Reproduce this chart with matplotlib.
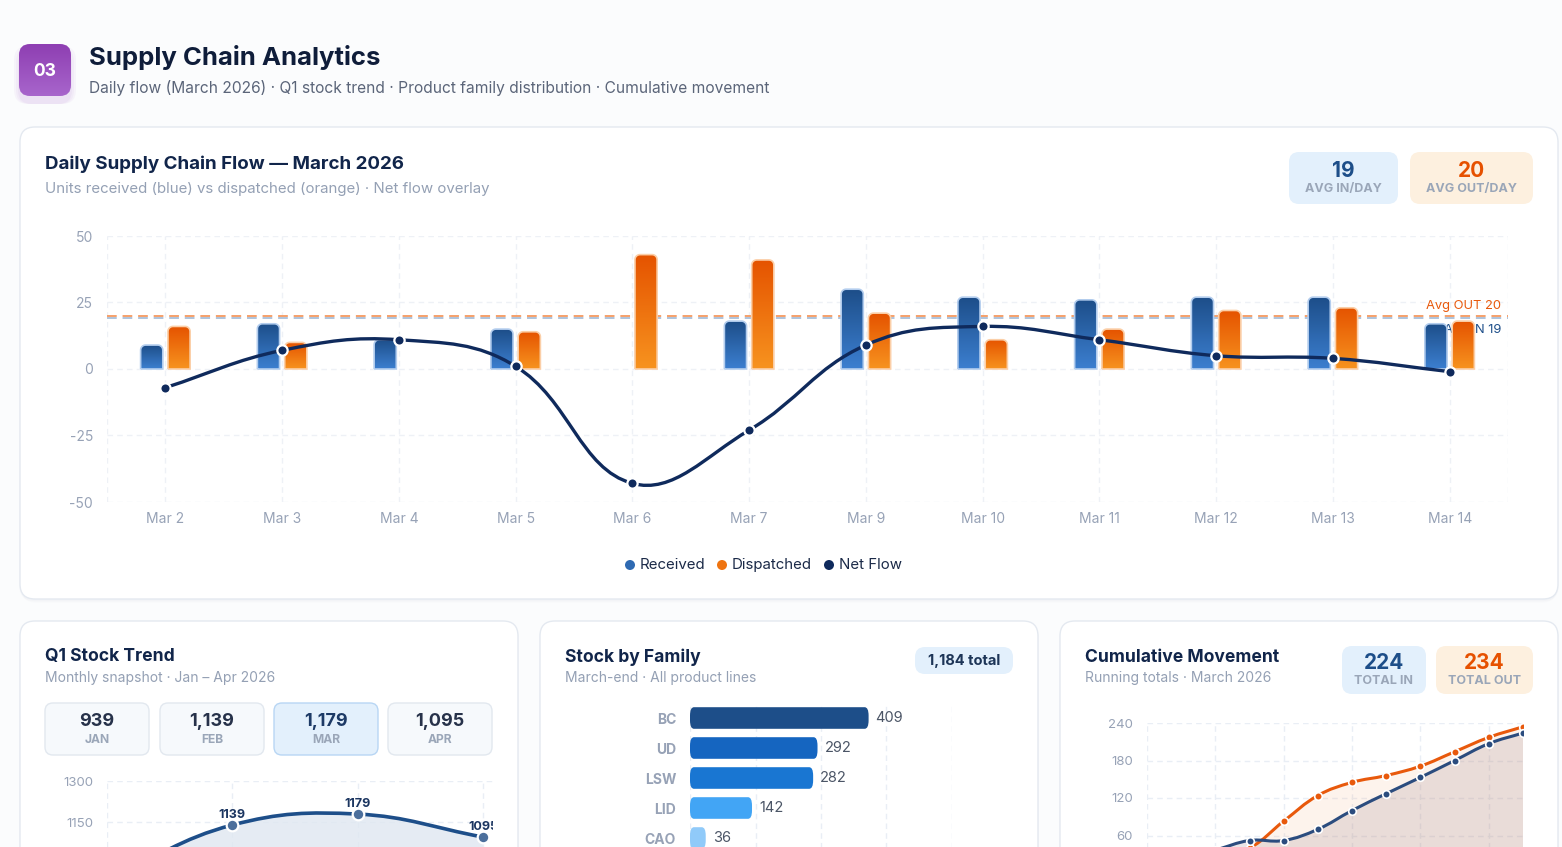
import numpy as np
import matplotlib
matplotlib.use("Agg")
import matplotlib.pyplot as plt
from matplotlib.patches import FancyBboxPatch, PathPatch, Ellipse
from matplotlib.path import Path
from matplotlib.colors import LinearSegmentedColormap

plt.rcParams['font.family'] = ['Inter', 'DejaVu Sans']
plt.rcParams['axes.unicode_minus'] = False

# ---- data ----
days = ['Mar 2', 'Mar 3', 'Mar 4', 'Mar 5', 'Mar 6', 'Mar 7',
        'Mar 9', 'Mar 10', 'Mar 11', 'Mar 12', 'Mar 13', 'Mar 14']
received = [9, 17, 11, 15, 0, 18, 30, 27, 26, 27, 27, 17]
dispatched = [16, 10, 0, 14, 43, 41, 21, 11, 15, 22, 23, 18]
avg_in = 19
avg_out = 20

months = ['JAN', 'FEB', 'MAR', 'APR']
stock = [939, 1139, 1179, 1095]

families = ['BC', 'UD', 'LSW', 'LID', 'CAO']
family_stock = [409, 292, 282, 142, 36]
family_colors = ['#1d4e89', '#1565c0', '#1976d2', '#42a5f5', '#90caf9']

cum_in = [9, 26, 37, 52, 52, 70, 100, 127, 153, 180, 207, 224]
cum_out = [16, 26, 26, 40, 83, 124, 145, 156, 171, 194, 217, 234]

net = [r - d for r, d in zip(received, dispatched)]

W, H = 1562, 847
fig = plt.figure(figsize=(W / 100, H / 100), dpi=100)
fig.patch.set_facecolor('#fbfcfd')

# background axes in pixel coords (y down)
bg = fig.add_axes([0, 0, 1, 1], zorder=0)
bg.set_xlim(0, W)
bg.set_ylim(H, 0)
bg.axis('off')

NAVY = '#11254a'
GRAY = '#94a0b4'


def px_axes(x0, y0, x1, y1, z=2):
    a = fig.add_axes([x0 / W, 1 - y1 / H, (x1 - x0) / W, (y1 - y0) / H], zorder=z)
    a.patch.set_alpha(0)
    return a


def rbox(x, y, w, h, r, fc, ec='none', lw=1, z=1, alpha=1):
    p = FancyBboxPatch((x, y), w, h, boxstyle='round,pad=0,rounding_size=%g' % r,
                       fc=fc, ec=ec, lw=lw, zorder=z, alpha=alpha)
    bg.add_patch(p)
    return p


def card(x, y, w, h):
    for i, a in enumerate([0.025, 0.02, 0.015]):
        rbox(x - 1 + i, y + 2 + i, w + 2 - 2 * i, h, 16, '#8090a8', alpha=a, z=1)
    rbox(x, y, w, h, 15, 'white', '#e4e9f0', 1, z=2)


def kpi(x, y, w, h, num, label, fc, nc):
    rbox(x, y, w, h, 10, fc, z=3)
    bg.text(x + w / 2, y + h * 0.36, num, ha='center', va='center', fontsize=15,
            fontweight='bold', color=nc, zorder=4)
    bg.text(x + w / 2, y + h * 0.72, label, ha='center', va='center', fontsize=9,
            fontweight='bold', color='#9aa6b8', zorder=4)


def smooth_path(xs, ys, ax, t=0.4):
    # bezier through the points, control points like chart.js tension
    pts = ax.transData.transform(np.column_stack([xs, ys]))
    n = len(pts)
    cp_prev = pts.copy()
    cp_next = pts.copy()
    for i in range(n):
        p0 = pts[max(i - 1, 0)]
        p1 = pts[i]
        p2 = pts[min(i + 1, n - 1)]
        d01 = np.hypot(*(p1 - p0))
        d12 = np.hypot(*(p2 - p1))
        tot = d01 + d12
        if tot == 0:
            continue
        fa = t * d01 / tot
        fb = t * d12 / tot
        cp_prev[i] = p1 - fa * (p2 - p0)
        cp_next[i] = p1 + fb * (p2 - p0)
    verts = [pts[0]]
    codes = [Path.MOVETO]
    for i in range(n - 1):
        verts += [cp_next[i], cp_prev[i + 1], pts[i + 1]]
        codes += [Path.CURVE4] * 3
    inv = ax.transData.inverted()
    return Path(inv.transform(np.array(verts)), codes)


def plain_axes(a, size=9.5):
    a.tick_params(which='both', length=0, labelsize=size, labelcolor='#97a2b6', pad=10)
    for s in a.spines.values():
        s.set_visible(False)
    a.set_axisbelow(True)


# ---- header ----
for i, a in enumerate([0.05, 0.05, 0.06]):
    rbox(19 - 5 + 2 * i, 44 + 2 + 2 * i, 52 + 10 - 4 * i, 52 + 6 - 2 * i, 14, '#a35cc8', alpha=a, z=1)
badge = rbox(19, 44, 52, 52, 11, 'none', z=3)
bgrad = np.linspace(0, 1, 64).reshape(-1, 1)
im = bg.imshow(bgrad, extent=(19, 71, 96, 44), origin='upper', aspect='auto', zorder=3,
               cmap=LinearSegmentedColormap.from_list('p', ['#8e3fb2', '#a865cc']))
im.set_clip_path(badge)
bg.text(45, 71, '03', ha='center', va='center', fontsize=12.5, fontweight='bold',
        color='white', zorder=4)
bg.text(89, 58, 'Supply Chain Analytics', ha='left', va='center', fontsize=18.5,
        fontweight='bold', color='#0f1d3a', zorder=4)
bg.text(89, 88, 'Daily flow (March 2026) · Q1 stock trend · Product family distribution · Cumulative movement',
        ha='left', va='center', fontsize=11.2, color='#5b6579', zorder=4)

# ---- main card ----
card(20, 127, 1538, 472)
bg.text(45, 164, 'Daily Supply Chain Flow — March 2026', ha='left', va='center',
        fontsize=13.5, fontweight='bold', color=NAVY, zorder=4)
bg.text(45, 189, 'Units received (blue) vs dispatched (orange) · Net flow overlay',
        ha='left', va='center', fontsize=10.8, color=GRAY, zorder=4)
kpi(1289, 152, 109, 52, str(avg_in), 'AVG IN/DAY', '#e3f0fc', '#1d4e89')
kpi(1410, 152, 123, 52, str(avg_out), 'AVG OUT/DAY', '#fdf0df', '#e65100')

ax = px_axes(107, 236, 1508, 502)
ax.set_xlim(-0.5, 11.5)
ax.set_ylim(-50, 50)
x = np.arange(len(days))
bw = 0.19
off = 0.117
rpx = 5
rx = rpx * 12 / 1401
ry = rpx * 100 / 266
blue_cm = LinearSegmentedColormap.from_list('b', ['#3c7fd0', '#1d4e89'])
orange_cm = LinearSegmentedColormap.from_list('o', ['#f7931f', '#e55300'])
grad = np.linspace(0, 1, 128).reshape(-1, 1)


def top_round_bar(a, xc, h, cm, ec):
    if h <= 0:
        return
    x0, x1 = xc - bw / 2, xc + bw / 2
    ryy = min(ry, h)
    th1 = np.linspace(np.pi, np.pi / 2, 10)
    th2 = np.linspace(np.pi / 2, 0, 10)
    vx = [x0] + list(x0 + rx + rx * np.cos(th1)) + list(x1 - rx + rx * np.cos(th2)) + [x1, x0]
    vy = [0] + list(h - ryy + ryy * np.sin(th1)) + list(h - ryy + ryy * np.sin(th2)) + [0, 0]
    pp = PathPatch(Path(np.column_stack([vx, vy])), fc='none', ec=ec, lw=1.2,
                   transform=a.transData, zorder=4)
    a.add_patch(pp)
    img = a.imshow(grad, extent=(x0, x1, 0, h), origin='lower', aspect='auto',
                   cmap=cm, zorder=3)
    img.set_clip_path(pp)


for i in range(len(days)):
    top_round_bar(ax, x[i] - off, received[i], blue_cm, '#b3cdee')
    top_round_bar(ax, x[i] + off, dispatched[i], orange_cm, '#fbcfa8')

ax.axhline(avg_out, color='#f5a06a', lw=1.4, ls=(0, (5, 3)), zorder=2)
ax.axhline(avg_in, color='#aec3dc', lw=1.4, ls=(0, (5, 3)), zorder=2)
ax.text(11.44, avg_out + 1.6, 'Avg OUT %d' % avg_out, ha='right', va='bottom',
        fontsize=9.3, color='#e8590c', zorder=2)
ax.text(11.44, avg_in - 2.2, 'Avg IN %d' % avg_in, ha='right', va='top',
        fontsize=9.3, color='#1d4e89', zorder=2)

ax.add_patch(PathPatch(smooth_path(x, net, ax), fc='none', ec='#0f2a5c', lw=2.4, zorder=6))
ax.scatter(x, net, s=55, color='#0f2a5c', edgecolor='white', linewidth=1.6, zorder=7)

ax.set_xticks(x)
ax.set_xticklabels(days)
ax.set_yticks([-50, -25, 0, 25, 50])
ax.set_xticks([-0.5, 11.5], minor=True)
ax.grid(True, which='both', color='#eef1f6', lw=1, ls=(0, (4, 3)))
plain_axes(ax, 10)
ax.tick_params(axis='x', pad=7)

# legend, drawn by hand so the spacing matches
leg_items = [('Received', '#2f6ab2', 630), ('Dispatched', '#ef7410', 722), ('Net Flow', '#0f2a5c', 829)]
for lab, col, lx in leg_items:
    bg.add_patch(Ellipse((lx, 565), 10, 10, fc=col, ec='none', zorder=4))
    bg.text(lx + 10, 565, lab, ha='left', va='center', fontsize=10.8, color='#1b2a48', zorder=4)

# ---- bottom cards ----
for cx in [20, 540, 1060]:
    card(cx, 621, 498, 260)

# Q1 stock trend
bg.text(45, 657, 'Q1 Stock Trend', ha='left', va='center', fontsize=12.6, fontweight='bold',
        color=NAVY, zorder=4)
bg.text(45, 678, 'Monthly snapshot · Jan – Apr 2026', ha='left', va='center', fontsize=10,
        color=GRAY, zorder=4)
box_x = [45, 160, 274, 388]
for i, m in enumerate(months):
    hl = (m == 'MAR')
    rbox(box_x[i], 703, 104, 52, 8, '#e3f0fc' if hl else '#f6f9fc',
         '#b8d6f4' if hl else '#e2e8ef', 1, z=3)
    bg.text(box_x[i] + 52, 722, '{:,}'.format(stock[i]), ha='center', va='center',
            fontsize=13, fontweight='bold', color='#27324a' if not hl else '#1d3a66', zorder=4)
    bg.text(box_x[i] + 52, 740, m, ha='center', va='center', fontsize=8.7, fontweight='bold',
            color='#9aa6b8', zorder=4)

# axes cut at the bottom edge of the picture; 150 units = 41 px
y_bot = 1300 - (H - 781) * 150 / 41
ax2 = px_axes(107, 781, 493, H)
ax2.set_xlim(0, 3 * 386 / 376)
ax2.set_ylim(y_bot, 1300)
xm = np.arange(len(months))
sp = smooth_path(xm, stock, ax2)
ax2.add_patch(PathPatch(sp, fc='none', ec='#1d4e89', lw=2.6, zorder=5))
fill_v = np.vstack([sp.vertices, [[xm[-1], 800], [xm[0], 800], sp.vertices[0]]])
fill_c = list(sp.codes) + [Path.LINETO, Path.LINETO, Path.CLOSEPOLY]
ax2.add_patch(PathPatch(Path(fill_v, fill_c), fc='#dfe7f1', ec='none', alpha=0.8, zorder=2))
ax2.scatter(xm, stock, s=70, color='#4c6f9c', edgecolor='white', linewidth=1.6, zorder=6)
for i in range(len(months)):
    if stock[i] > y_bot:
        ax2.text(xm[i], stock[i] + 14, str(stock[i]), ha='center', va='bottom', fontsize=9,
                 fontweight='bold', color='#1b3560', zorder=7, clip_on=True)
ax2.set_xticks(xm)
ax2.set_xticklabels([])
ax2.set_yticks([1150, 1300])
ax2.grid(True, color='#e9eef5', lw=1, ls=(0, (4, 3)))
plain_axes(ax2, 9.5)

# stock by family
bg.text(565, 657, 'Stock by Family', ha='left', va='center', fontsize=12.6, fontweight='bold',
        color=NAVY, zorder=4)
bg.text(565, 678, 'March-end · All product lines', ha='left', va='center', fontsize=10,
        color=GRAY, zorder=4)
rbox(915, 647, 98, 27, 10, '#e3f0fc', z=3)
bg.text(964, 661, '{:,} total'.format(1184), ha='center', va='center', fontsize=10.5,
        fontweight='bold', color='#1d3557', zorder=4)

ax3 = px_axes(690, 703, 952, 1003)
ax3.set_xlim(0, 600)
ax3.set_ylim(9.5, -0.5)
for i, (f, v) in enumerate(zip(families, family_stock)):
    ax3.add_patch(FancyBboxPatch((0, i - 0.36), v, 0.72,
                                 boxstyle='round,pad=0,rounding_size=9',
                                 mutation_aspect=0.72 / 9 * 0.9 / 2.3,
                                 fc=family_colors[i], ec='none', zorder=3))
    ax3.text(v + 16, i, str(v), ha='left', va='center', fontsize=10.5, color='#4b5566', zorder=4)
ax3.set_yticks(range(len(families)))
ax3.set_yticklabels(families, fontweight='bold')
ax3.set_xticks([0, 150, 300, 450, 600])
ax3.set_xticklabels([])
ax3.grid(True, axis='x', color='#e9eef5', lw=1, ls=(0, (4, 3)))
plain_axes(ax3, 10)

# cumulative movement
bg.text(1085, 657, 'Cumulative Movement', ha='left', va='center', fontsize=12.6,
        fontweight='bold', color=NAVY, zorder=4)
bg.text(1085, 678, 'Running totals · March 2026', ha='left', va='center', fontsize=10,
        color=GRAY, zorder=4)
kpi(1342, 646, 84, 48, str(cum_in[-1]), 'TOTAL IN', '#e3f0fc', '#1d4e89')
kpi(1436, 646, 97, 48, str(cum_out[-1]), 'TOTAL OUT', '#fdf0df', '#e65100')

ax4 = px_axes(1147, 723, 1523, 873)
ax4.set_xlim(0, 11)
ax4.set_ylim(0, 240)
xc = np.arange(len(cum_in))
for vals, fcol, al in [(cum_out, '#f6a56f', 0.13), (cum_in, '#9a8088', 0.2)]:
    spc = smooth_path(xc, vals, ax4)
    fv = np.vstack([spc.vertices, [[xc[-1], 0], [xc[0], 0], spc.vertices[0]]])
    fc_ = list(spc.codes) + [Path.LINETO, Path.LINETO, Path.CLOSEPOLY]
    ax4.add_patch(PathPatch(Path(fv, fc_), fc=fcol, ec='none', alpha=al, zorder=2))
for vals, col in [(cum_out, '#e8590c'), (cum_in, '#2b4c7e')]:
    ax4.add_patch(PathPatch(smooth_path(xc, vals, ax4), fc='none', ec=col, lw=2.2, zorder=5))
    ax4.scatter(xc, vals, s=30, color=col, edgecolor='white', linewidth=1.2, zorder=6)
ax4.set_xticks(xc[::2])
ax4.set_xticklabels([])
ax4.set_yticks([60, 120, 180, 240])
ax4.grid(True, color='#e9eef5', lw=1, ls=(0, (4, 3)))
plain_axes(ax4, 9.5)

fig.savefig('out.png', dpi=100, facecolor=fig.get_facecolor())
